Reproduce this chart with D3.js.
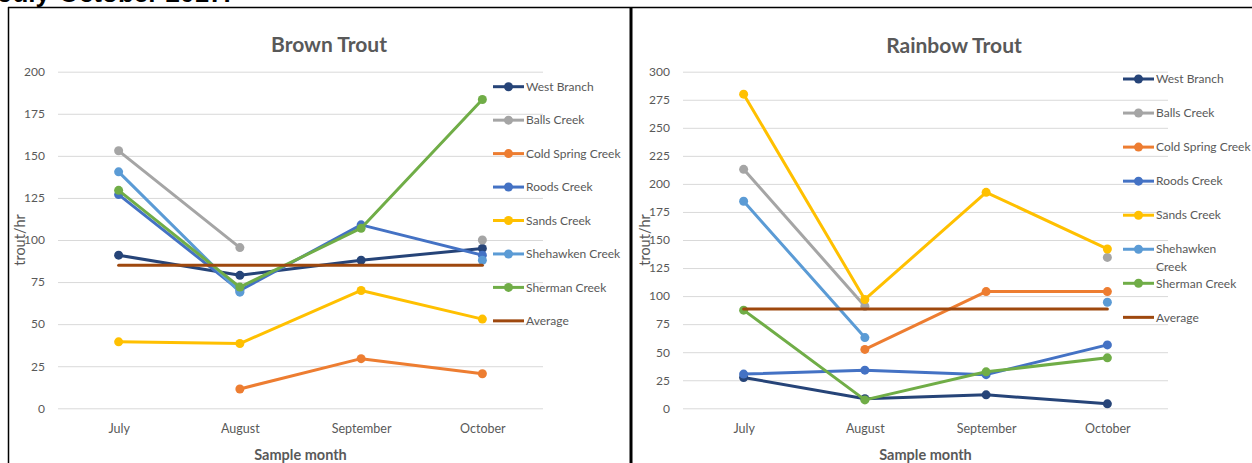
<!DOCTYPE html>
<html>
<head>
<meta charset="utf-8">
<script src="https://cdn.jsdelivr.net/npm/d3@7"></script>
<style>
  html, body { margin: 0; padding: 0; background: #fff; overflow: hidden; }
  svg { display: block; font-family: Lato, "Open Sans", sans-serif; }
</style>
</head>
<body>
<script>
// ---------- DATA ----------
const months = ["July", "August", "September", "October"];
const seriesNames = ["West Branch", "Balls Creek", "Cold Spring Creek", "Roods Creek",
                     "Sands Creek", "Shehawken Creek", "Sherman Creek", "Average"];
const seriesColors = ["#264478", "#A5A5A5", "#ED7D31", "#4472C4",
                      "#FFC000", "#5B9BD5", "#70AD47", "#9E480E"];

// Brown Trout (trout/hr)
const brownWestBranch = [91, 79, 88, 95];
const brownBalls      = [153, 95.5, null, 100];
const brownColdSpring = [null, 11.5, 29.5, 20.5];
const brownRoods      = [127, 70, 109, 91];
const brownSands      = [39.5, 38.5, 70, 53];
const brownShehawken  = [140.5, 69, null, 88];
const brownSherman    = [129.5, 72, 107, 183.5];
const brownAverage    = [85, 85, 85, 85];
const brownTicks      = [0, 25, 50, 75, 100, 125, 150, 175, 200];

// Rainbow Trout (trout/hr)
const rainbowWestBranch = [27.5, 8.5, 12, 4];
const rainbowBalls      = [213, 91, null, 134.5];
const rainbowColdSpring = [null, 52.5, 104, 104];
const rainbowRoods      = [30.5, 34, 30, 56.5];
const rainbowSands      = [280, 97, 192.5, 142];
const rainbowShehawken  = [184.5, 63, null, 94.5];
const rainbowSherman    = [87.5, 7.5, 32.5, 45];
const rainbowAverage    = [88.5, 88.5, 88.5, 88.5];
const rainbowTicks      = [0, 25, 50, 75, 100, 125, 150, 175, 200, 225, 250, 275, 300];

const brownSeries = [brownWestBranch, brownBalls, brownColdSpring, brownRoods,
                     brownSands, brownShehawken, brownSherman, brownAverage];
const rainbowSeries = [rainbowWestBranch, rainbowBalls, rainbowColdSpring, rainbowRoods,
                       rainbowSands, rainbowShehawken, rainbowSherman, rainbowAverage];

// ---------- DRAW ----------
const W = 1252, H = 463;
const svg = d3.select("body").append("svg").attr("width", W).attr("height", H);
const textGray = "#595959";

// heading cut off at top
svg.append("text")
  .attr("x", -2).attr("y", 2)
  .attr("font-family", "'Liberation Sans', Arial, sans-serif")
  .attr("font-weight", "bold").attr("font-size", 26)
  .attr("fill", "#000")
  .text("July-October 2017.");

// frame lines
svg.append("line").attr("x1", 8).attr("x2", W).attr("y1", 7.5).attr("y2", 7.5)
  .attr("stroke", "#000").attr("stroke-width", 1.5);
svg.append("line").attr("x1", 8.5).attr("x2", 8.5).attr("y1", 7).attr("y2", H)
  .attr("stroke", "#000").attr("stroke-width", 1.5);
svg.append("line").attr("x1", 631).attr("x2", 631).attr("y1", 7).attr("y2", H)
  .attr("stroke", "#000").attr("stroke-width", 3);

function drawPanel(cfg) {
  const g = svg.append("g");
  const x = d3.scalePoint().domain(months).range([cfg.x0, cfg.x1]).padding(0.5);
  const y = d3.scaleLinear().domain([0, cfg.max]).range([cfg.yBottom, cfg.yTop]);

  // y axis + gridlines
  const ya = g.append("g").attr("transform", `translate(${cfg.x0},0)`)
    .call(d3.axisLeft(y).tickValues(cfg.ticks).tickSize(-(cfg.x1 - cfg.x0)).tickPadding(13));
  ya.select(".domain").remove();
  ya.selectAll(".tick line").attr("stroke", "#D9D9D9").attr("stroke-width", 1);
  ya.selectAll(".tick text").attr("fill", textGray).attr("font-size", 12)
    .attr("font-family", "Lato, sans-serif");

  // x axis labels
  const xa = g.append("g").attr("transform", `translate(0,${cfg.yBottom})`)
    .call(d3.axisBottom(x).tickSize(0).tickPadding(16));
  xa.select(".domain").remove();
  xa.selectAll(".tick text").attr("fill", textGray).attr("font-size", 12.5)
    .attr("font-family", "Lato, sans-serif");

  // title
  g.append("text").attr("x", cfg.titleX).attr("y", cfg.titleY)
    .attr("text-anchor", "middle").attr("font-weight", "bold")
    .attr("font-size", 21).attr("fill", textGray).text(cfg.title);

  // axis titles
  g.append("text").attr("x", (cfg.x0 + cfg.x1) / 2).attr("y", 460)
    .attr("text-anchor", "middle").attr("font-weight", "bold")
    .attr("font-size", 14.5).attr("fill", textGray).text("Sample month");
  g.append("text")
    .attr("transform", `translate(${cfg.yTitleX},${(cfg.yTop + cfg.yBottom) / 2}) rotate(-90)`)
    .attr("text-anchor", "middle").attr("font-size", 14.5).attr("fill", textGray)
    .text("trout/hr");

  // series
  const line = d3.line()
    .defined(d => d.v !== null)
    .x(d => x(d.m)).y(d => y(d.v));
  cfg.series.forEach((vals, i) => {
    const pts = months.map((m, j) => ({ m, v: vals[j] }));
    const isAvg = seriesNames[i] === "Average";
    g.append("path").datum(pts)
      .attr("d", line).attr("fill", "none")
      .attr("stroke", seriesColors[i]).attr("stroke-width", 3)
      .attr("stroke-linejoin", "round").attr("stroke-linecap", "round");
    if (!isAvg) {
      g.selectAll(null).data(pts.filter(d => d.v !== null)).enter()
        .append("circle")
        .attr("cx", d => x(d.m)).attr("cy", d => y(d.v)).attr("r", 4.5)
        .attr("fill", seriesColors[i]);
    }
  });

  // legend
  const lg = g.append("g");
  seriesNames.forEach((name, i) => {
    const cy = cfg.legY0 + i * cfg.legStep;
    const isAvg = name === "Average";
    lg.append("line").attr("x1", cfg.legX).attr("x2", cfg.legX + 31)
      .attr("y1", cy).attr("y2", cy)
      .attr("stroke", seriesColors[i]).attr("stroke-width", 3);
    if (!isAvg) {
      lg.append("circle").attr("cx", cfg.legX + 15.5).attr("cy", cy).attr("r", 4.5)
        .attr("fill", seriesColors[i]);
    }
    const lines = (cfg.wrap && cfg.wrap[name]) ? cfg.wrap[name] : [name];
    lines.forEach((t, k) => {
      lg.append("text").attr("x", cfg.legX + 33).attr("y", cy + k * 17.5)
        .attr("dy", "0.35em").attr("font-size", 12).attr("fill", textGray).text(t);
    });
  });
}

drawPanel({
  title: "Brown Trout", titleX: 329, titleY: 52,
  x0: 58, x1: 543, yTop: 71.7, yBottom: 408.3, max: 200, ticks: brownTicks,
  series: brownSeries, yTitleX: 25,
  legX: 493, legY0: 86.7, legStep: 33.45
});

drawPanel({
  title: "Rainbow Trout", titleX: 954, titleY: 53,
  x0: 683, x1: 1168, yTop: 71.7, yBottom: 408.3, max: 300, ticks: rainbowTicks,
  series: rainbowSeries, yTitleX: 650,
  legX: 1123, legY0: 79, legStep: 34.05,
  wrap: { "Shehawken Creek": ["Shehawken", "Creek"] }
});
</script>
</body>
</html>
